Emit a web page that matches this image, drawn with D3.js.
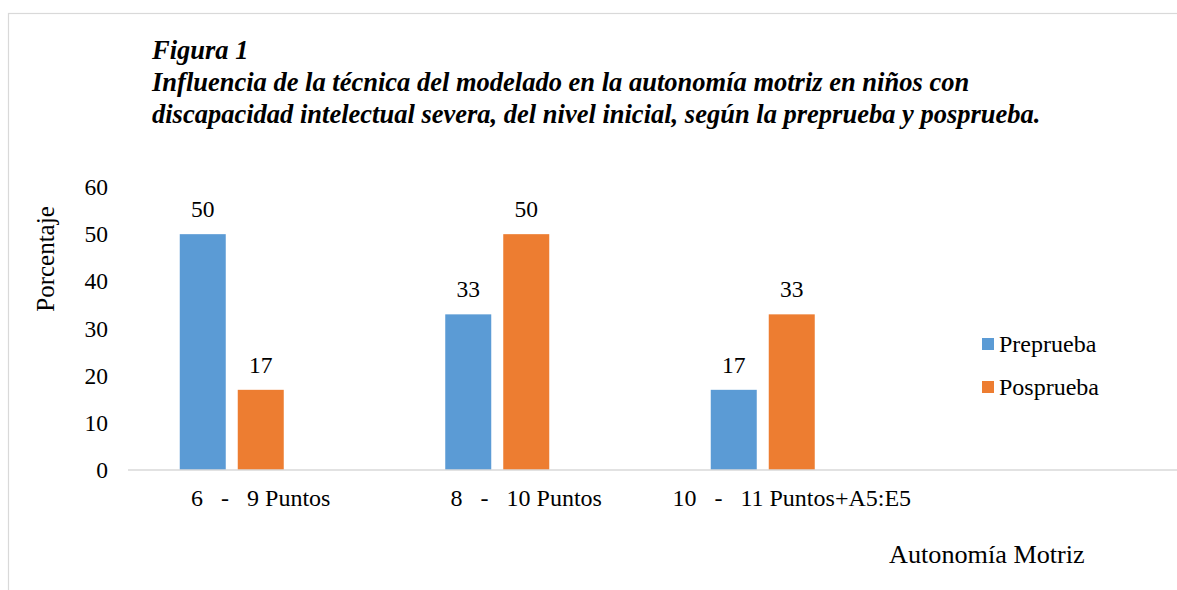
<!DOCTYPE html>
<html>
<head>
<meta charset="utf-8">
<script src="https://cdn.jsdelivr.net/npm/d3@7"></script>
<style>
  body { margin: 0; background: #fff; }
  svg text { font-family: "Liberation Serif", "Times New Roman", serif; fill: #000; }
</style>
</head>
<body>
<div id="viz"></div>
<script>
var width = 1177
var height = 590

// data
var categories = ["6   -   9 Puntos", "8   -   10 Puntos", "10   -   11 Puntos+A5:E5"]
var series = ["Preprueba", "Posprueba"]
var preprueba = [50, 33, 17]
var posprueba = [17, 50, 33]
var yTicks = [0, 10, 20, 30, 40, 50, 60]
var titleLines = [
    "Figura 1",
    "Influencia de la técnica del modelado en la autonomía motriz en niños con",
    "discapacidad intelectual severa, del nivel inicial, según la preprueba y posprueba."
]
var colors = ["#5B9BD5", "#ED7D31"]

var svg = d3.select("#viz")
    .append("svg")
    .attr("width", width)
    .attr("height", height);

// chart frame (only top and left edges are inside the picture)
svg.append("rect")
    .attr("x", 8.5)
    .attr("y", 13.5)
    .attr("width", 1300)
    .attr("height", 700)
    .attr("fill", "none")
    .attr("stroke", "#d9d9d9")
    .attr("stroke-width", 1.2);

// title
var title = svg.append("text")
    .attr("x", 152)
    .attr("y", 59)
    .style("font-size", "26.5px")
    .style("font-weight", "bold")
    .style("font-style", "italic");
titleLines.forEach(function (t, i) {
    title.append("tspan")
        .attr("x", 152)
        .attr("dy", i == 0 ? 0 : 32.2)
        .text(t);
});

var plotLeft = 128
var step = 265.5
var y0 = 470
var yTop = 187

var x = d3.scaleBand()
    .domain(categories)
    .range([plotLeft, plotLeft + step * categories.length])
    .padding(0);

// the spreadsheet had a third (empty) series slot, so bars sit left of centre
var slots = series.concat([""])
var inner = 12 / 58
var outer = (x.bandwidth() / 58 - slots.length + inner) / 2
var xs = d3.scaleBand()
    .domain(slots)
    .range([0, x.bandwidth()])
    .paddingInner(inner)
    .paddingOuter(outer);

var y = d3.scaleLinear()
    .domain([0, 60])
    .range([y0, yTop]);

// y axis labels
var yAxis = svg.append("g")
    .attr("transform", "translate(" + plotLeft + ",0)")
    .call(d3.axisLeft(y).tickValues(yTicks).tickSize(0).tickPadding(20));
yAxis.select(".domain").remove();
yAxis.selectAll("text")
    .style("font-size", "23.5px")
    .style("font-family", "'Liberation Serif', serif");

// bars
var values = [preprueba, posprueba]
series.forEach(function (s, si) {
    var g = svg.append("g").attr("class", "series");
    values[si].forEach(function (v, ci) {
        var cx = x(categories[ci]) + xs(s);
        g.append("rect")
            .attr("x", cx)
            .attr("y", y(v))
            .attr("width", xs.bandwidth())
            .attr("height", y(0) - y(v))
            .attr("fill", colors[si]);
        g.append("text")
            .attr("x", cx + xs.bandwidth() / 2)
            .attr("y", y(v) - 17)
            .attr("text-anchor", "middle")
            .style("font-size", "23.5px")
            .text(v);
    });
});

// category axis line
svg.append("line")
    .attr("x1", plotLeft)
    .attr("x2", width)
    .attr("y1", y(0))
    .attr("y2", y(0))
    .attr("stroke", "#d9d9d9")
    .attr("stroke-width", 1.5);

var xAxis = svg.append("g")
    .attr("transform", "translate(0," + y(0) + ")")
    .call(d3.axisBottom(x).tickSize(0).tickPadding(19));
xAxis.select(".domain").remove();
xAxis.selectAll("text")
    .style("font-size", "24px")
    .style("font-family", "'Liberation Serif', serif")
    .style("white-space", "pre")
    .attr("xml:space", "preserve");

// axis titles
svg.append("text")
    .attr("transform", "translate(54,259) rotate(-90)")
    .attr("text-anchor", "middle")
    .style("font-size", "25px")
    .text("Porcentaje");

svg.append("text")
    .attr("x", 889)
    .attr("y", 563)
    .style("font-size", "26.2px")
    .text("Autonomía Motriz");

// legend
var legend = svg.append("g");
series.forEach(function (s, i) {
    var ly = 344 + i * 43;
    legend.append("rect")
        .attr("x", 982)
        .attr("y", ly - 6)
        .attr("width", 12)
        .attr("height", 12)
        .attr("fill", colors[i]);
    legend.append("text")
        .attr("x", 999)
        .attr("y", ly)
        .attr("dy", "0.35em")
        .style("font-size", "24px")
        .text(s);
});
</script>
</body>
</html>
